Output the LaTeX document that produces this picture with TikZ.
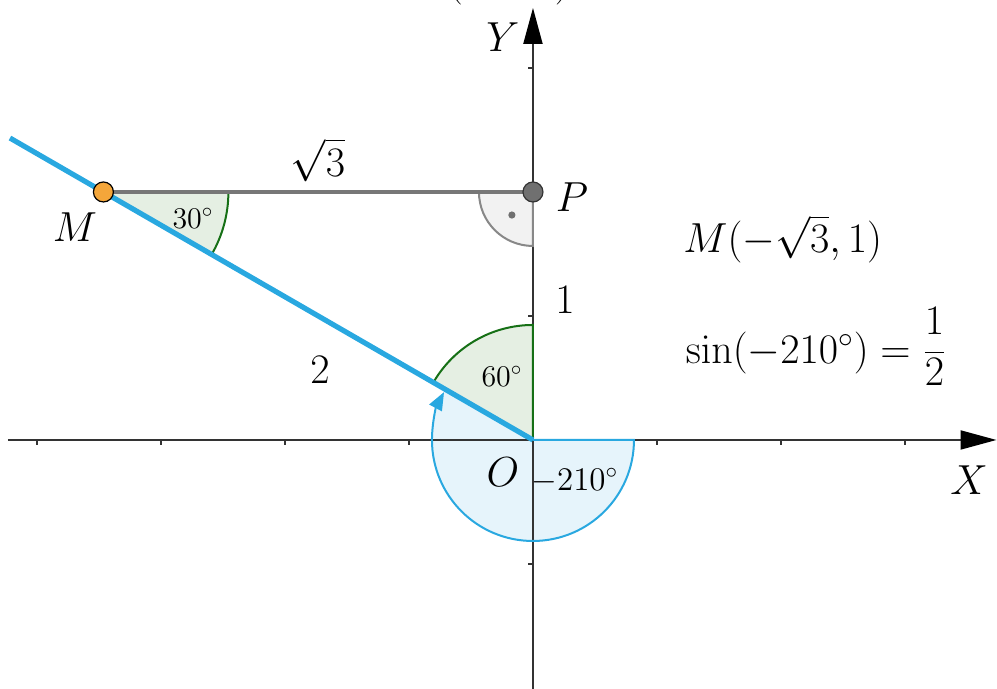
\RequirePackage{fix-cm}
\documentclass[tikz,border=0pt]{standalone}
\usepackage{amsmath}
\usetikzlibrary{arrows.meta}
\definecolor{axisc}{RGB}{51,51,51}
\definecolor{bluec}{RGB}{41,168,224}
\definecolor{lbluec}{RGB}{230,244,251}
\definecolor{dgreenc}{RGB}{22,112,22}
\definecolor{lgreenc}{RGB}{229,239,227}
\definecolor{glinec}{RGB}{119,119,119}
\definecolor{lgrayc}{RGB}{242,242,242}
\definecolor{garcc}{RGB}{136,136,136}
\definecolor{orangec}{RGB}{244,166,58}
\definecolor{pgrayc}{RGB}{112,112,112}
\tikzset{
  axisline/.style={draw=axisc, line width=1pt},
  tickmark/.style={draw=axisc, line width=0.8pt},
  lbl/.style={font=\fontsize{21}{25}\selectfont, inner sep=0pt},
  smalllbl/.style={font=\fontsize{15}{18}\selectfont, inner sep=0pt},
  dotpt/.style={circle, minimum size=10pt, inner sep=0pt, line width=0.6pt},
  bigtip/.style={-{Triangle[length=18pt,width=9.5pt,color=black]}},
}
\begin{document}
\begin{tikzpicture}[x=124pt,y=124pt]
\useasboundingbox (-2.149,-1.004) rectangle (1.871,1.774);
\coordinate (O) at (0,0);
\coordinate (M) at (-1.7320508,1);
\coordinate (P) at (0,1);
\coordinate (L) at (150:2.435);
\coordinate (xl) at (-2.117,0);
\coordinate (xr) at (1.869,0);
\coordinate (yb) at (0,-1.01);
\coordinate (yt) at (0,1.742);

% clipped title parentheses
\node[lbl, anchor=base] (title) at (-0.097,1.796) {$(\hspace{46pt})$};

% fills
\fill[lbluec] (O) -- ++(0:50.5pt) arc[start angle=0,end angle=-210,radius=50.5pt] -- cycle;
\fill[lgreenc] (O) -- ++(90:57.5pt) arc[start angle=90,end angle=150,radius=57.5pt] -- cycle;
\fill[lgreenc] (M) -- ++(0:62.5pt) arc[start angle=0,end angle=-30,radius=62.5pt] -- cycle;
\fill[lgrayc] (P) -- ++(180:27pt) arc[start angle=180,end angle=270,radius=27pt] -- cycle;

% axes
\draw[axisline, bigtip] (xl) -- (xr);
\draw[axisline, bigtip] (yb) -- (yt);
\foreach \t in {-2,-1.5,-1,-0.5,0.5,1,1.5} \draw[tickmark] (\t,0) -- ++(0,-2.5pt);
\foreach \t in {-0.5,0.5,1,1.5} \draw[tickmark] (0,\t) -- ++(-2.5pt,0);

% angle strokes
\draw[dgreenc, line width=1pt] (O) -- ++(90:57.5pt) arc[start angle=90,end angle=150,radius=57.5pt];
\draw[dgreenc, line width=1pt] (M) ++(0:62.5pt) arc[start angle=0,end angle=-30,radius=62.5pt];
\draw[garcc, line width=1pt] (P) ++(180:27pt) arc[start angle=180,end angle=270,radius=27pt] -- (P);
\fill[pgrayc] (P) ++(-0.085,-0.093) circle[radius=1.8pt];
\draw[bluec, line width=1pt, -{Triangle[length=9pt,width=7pt]}] (O) -- ++(0:50.5pt) arc[start angle=0,end angle=-208.3,radius=50.5pt];

% lines
\draw[bluec, line width=2.6pt] (O) -- (L);
\draw[glinec, line width=1.8pt] (M) -- (P);

% points
\node[dotpt, fill=orangec, draw=black] (Mp) at (M) {};
\node[dotpt, fill=pgrayc, draw=axisc] (Pp) at (P) {};

% labels
\node[lbl] (Ylbl) at (-0.121,1.625) {$Y$};
\node[lbl] (Xlbl) at (1.758,-0.161) {$X$};
\node[lbl] (Olbl) at (-0.121,-0.129) {$O$};
\node[lbl] (Plbl) at (0.157,0.980) {$P$};
\node[lbl] (Mlbl) at (-1.847,0.859) {$M$};
\node[lbl] (one) at (0.129,0.565) {$1$};
\node[lbl] (two) at (-0.859,0.282) {$2$};
\node[lbl] (sq) at (-0.867,1.129) {$\sqrt{3}$};
\node[smalllbl] (a30) at (-1.371,0.895) {$30^\circ$};
\node[smalllbl] (a60) at (-0.125,0.255) {$60^\circ$};
\node[font=\fontsize{16.5}{19}\selectfont, inner sep=0pt] (a210) at (0.169,-0.165) {$-210^\circ$};

\node[lbl, anchor=base west] (f1) at (0.605,0.754) {$M(-\sqrt{3},1)$};
\node[lbl, anchor=base west] (f2) at (0.615,0.310) {$\sin(-210^\circ) = \dfrac{1}{\raisebox{3pt}{$2$}}$};
\end{tikzpicture}
\end{document}
